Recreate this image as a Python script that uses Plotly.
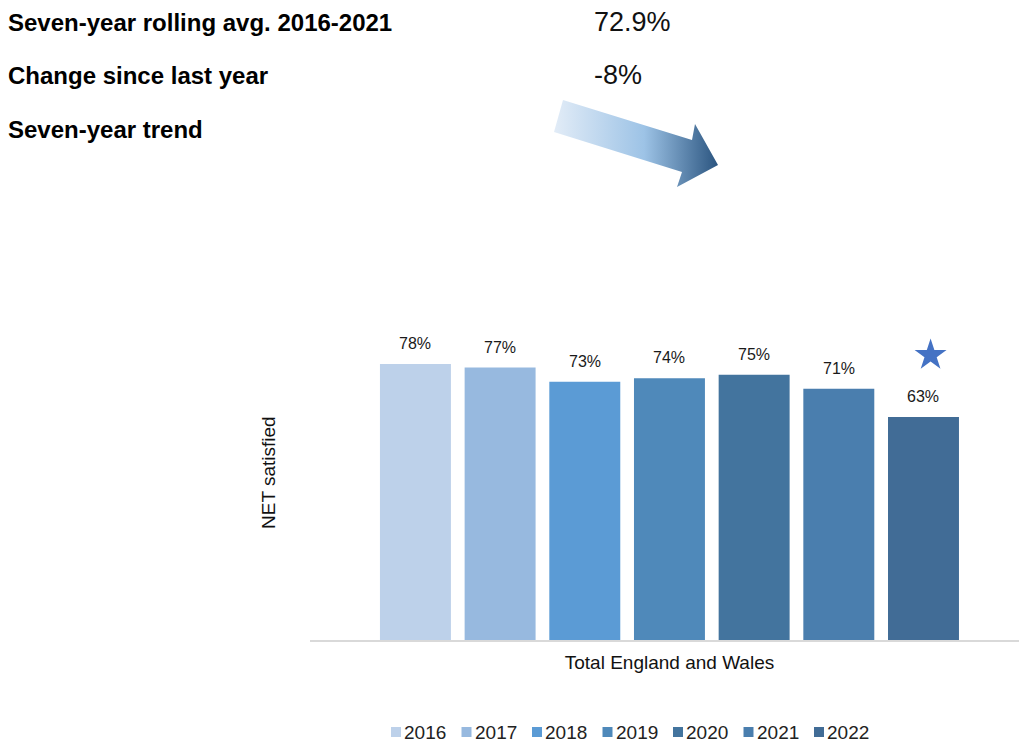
import base64
import plotly.graph_objects as go

# ---- data ----
years = ["2016", "2017", "2018", "2019", "2020", "2021", "2022"]
net_satisfied = [78, 77, 73, 74, 75, 71, 63]
category = ["Total England and Wales"]
bar_colors = ["#BDD1EA", "#97B9DF", "#5B9BD5", "#4F89BA", "#43749E", "#4A7EAE", "#416C96"]
flagged_year = "2022"

summary_labels = ["Seven-year rolling avg. 2016-2021", "Change since last year", "Seven-year trend"]
summary_values = ["72.9%", "-8%", ""]

# ---- layout geometry ----
W, H = 1019, 742
L, R, T, B = 310, 0, 306, 102
PW, PH = W - L - R, H - T - B
BARGAP = 0.164
GROUPGAP = 0.162
X_SHIFT = 0.007
Y_MAX = 94.4
FONT = "Liberation Sans, Arial, sans-serif"


def px(x):
    return (x - L) / PW


def py(y):
    return (H - B - y) / PH


fig = go.Figure()
for yr, val, col in zip(years, net_satisfied, bar_colors):
    fig.add_trace(go.Bar(
        name=yr, x=category, y=[val], marker=dict(color=col, line=dict(width=0)),
        hoverinfo="skip", showlegend=False,
    ))

# centres of the grouped bars on a numeric overlay axis
n = len(years)
group_w = 1 - BARGAP
slot = group_w / n
centres = [-group_w / 2 + (i + 0.5) * slot for i in range(n)]

annotations = []
for c, val in zip(centres, net_satisfied):
    annotations.append(dict(
        x=c, y=val, xref="x2", yref="y", text=f"{val}%", showarrow=False,
        yanchor="bottom", yshift=10, font=dict(family=FONT, size=16, color="#1a1a1a"),
    ))

# significance marker above (and slightly right of) the flagged bar
fi = years.index(flagged_year)
fig.add_trace(go.Scatter(
    x=[centres[fi] + 0.01], y=[net_satisfied[fi] + 17.5], xaxis="x2", yaxis="y",
    mode="markers", marker=dict(symbol="star", size=24, color="#4472C4", line=dict(width=0)),
    showlegend=False, hoverinfo="skip",
))

# y-axis title
annotations.append(dict(
    x=px(268), y=py(473), xref="paper", yref="paper", text="NET satisfied", showarrow=False,
    textangle=-90, xanchor="center", yanchor="middle", font=dict(family=FONT, size=19, color="#111111"),
))

# summary block at the top
rows_y = [22, 75, 129]
for lab, val, yy in zip(summary_labels, summary_values, rows_y):
    annotations.append(dict(
        x=px(6), y=py(yy), xref="paper", yref="paper", text=f"<b>{lab}</b>", showarrow=False,
        xanchor="left", yanchor="middle", font=dict(family=FONT, size=24, color="#000000"),
    ))
    if val:
        annotations.append(dict(
            x=px(592), y=py(yy), xref="paper", yref="paper", text=val, showarrow=False,
            xanchor="left", yanchor="middle", font=dict(family=FONT, size=27, color="#111111"),
        ))

# legend row: small colour square followed by the year
shapes = []
LEG_X0, LEG_STEP, LEG_Y, SQ = 391, 70.5, 732, 10
for i, (yr, col) in enumerate(zip(years, bar_colors)):
    x0 = LEG_X0 + i * LEG_STEP
    shapes.append(dict(
        type="rect", xref="paper", yref="paper",
        x0=px(x0), x1=px(x0 + SQ), y0=py(LEG_Y + SQ / 2), y1=py(LEG_Y - SQ / 2),
        fillcolor=col, line=dict(width=0),
    ))
    annotations.append(dict(
        x=px(x0 + SQ + 2), y=py(LEG_Y), xref="paper", yref="paper", text=yr, showarrow=False,
        xanchor="left", yanchor="middle", borderpad=0,
        font=dict(family=FONT, size=19, color="#222222"),
    ))

# gradient trend arrow as an inline SVG image
arrow_svg = (
    '<svg xmlns="http://www.w3.org/2000/svg" width="170" height="92" viewBox="0 0 170 92">'
    '<defs><linearGradient id="g" x1="0" y1="0" x2="1" y2="0">'
    '<stop offset="0" stop-color="#E2ECF7"/>'
    '<stop offset="0.55" stop-color="#9DC3E6"/>'
    '<stop offset="1" stop-color="#2B5580"/>'
    '</linearGradient></defs>'
    '<polygon points="9,0 138,40 141,24 164,65 123,87 128,72 0,32" fill="url(#g)"/>'
    '</svg>'
)
arrow_src = "data:image/svg+xml;base64," + base64.b64encode(arrow_svg.encode()).decode()
images = [dict(
    source=arrow_src, xref="paper", yref="paper", x=px(554), y=py(100),
    sizex=170 / PW, sizey=92 / PH, xanchor="left", yanchor="top", sizing="stretch", layer="above",
)]

fig.update_layout(
    width=W, height=H, margin=dict(l=L, r=R, t=T, b=B, autoexpand=False),
    paper_bgcolor="white", plot_bgcolor="white",
    barmode="group", bargap=BARGAP, bargroupgap=GROUPGAP,
    font=dict(family=FONT, color="#111111"),
    xaxis=dict(
        type="category", range=[-0.5 - X_SHIFT, 0.5 - X_SHIFT], showgrid=False, zeroline=False,
        showline=True, linecolor="#D9D9D9", linewidth=2, ticks="", automargin=False,
        tickfont=dict(size=19, color="#111111"), fixedrange=True, ticklabelstandoff=4,
    ),
    xaxis2=dict(overlaying="x", range=[-0.5 - X_SHIFT, 0.5 - X_SHIFT], visible=False, fixedrange=True),
    yaxis=dict(
        range=[0, Y_MAX], showgrid=False, zeroline=False, showticklabels=False, ticks="",
        automargin=False, fixedrange=True,
    ),
    annotations=annotations, shapes=shapes, images=images, showlegend=False,
)

fig.write_html("out.html")
